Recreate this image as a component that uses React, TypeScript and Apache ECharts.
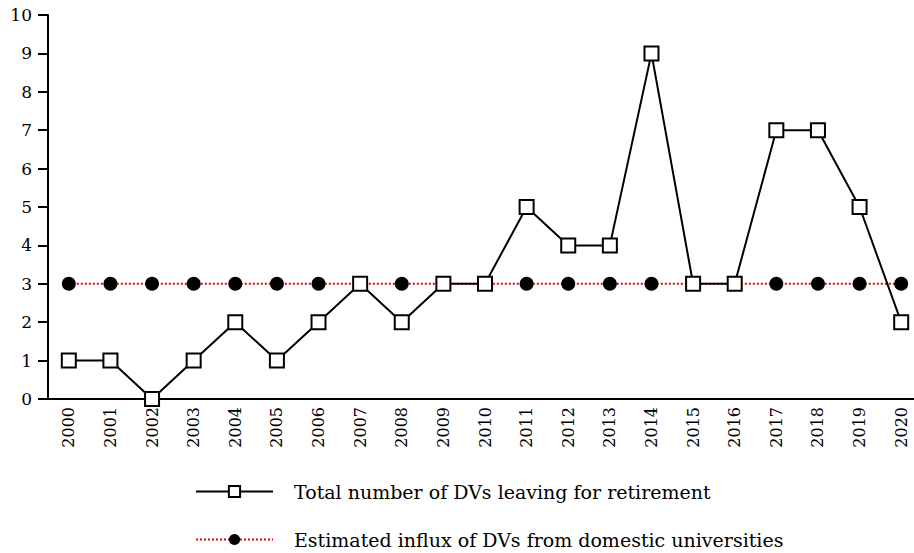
import React, { useEffect, useRef } from "react";
import * as echarts from "echarts";

const years = ["2000","2001","2002","2003","2004","2005","2006","2007","2008","2009","2010","2011","2012","2013","2014","2015","2016","2017","2018","2019","2020"];
const retiring = [1,1,0,1,2,1,2,3,2,3,3,5,4,4,9,3,3,7,7,5,2];
const influx = [3,3,3,3,3,3,3,3,3,3,3,3,3,3,3,3,3,3,3,3,3];
const seriesNames = ["Total number of DVs leaving for retirement", "Estimated influx of DVs from domestic universities"];

const FONT = "DejaVu Serif";

export default function App() {
  const ref = useRef<HTMLDivElement>(null);
  useEffect(() => {
    const chart = echarts.init(ref.current!, null, { renderer: "svg" });
    const legendCommon = {
      orient: "horizontal",
      left: 195,
      padding: 0,
      itemWidth: 77,
      itemHeight: 14,
      textStyle: { color: "#000", fontFamily: FONT, fontSize: 19, padding: [0, 0, 0, 16] },
    };
    chart.setOption({
      animation: false,
      backgroundColor: "#fff",
      textStyle: { fontFamily: FONT },
      grid: { left: 48, top: 15, right: -8, bottom: 154, containLabel: false, outerBoundsMode: "none" },
      xAxis: {
        type: "category",
        data: years,
        boundaryGap: true,
        axisLine: { lineStyle: { color: "#000", width: 2 } },
        axisTick: { alignWithLabel: true, length: 8, lineStyle: { color: "#000", width: 2 } },
        axisLabel: { rotate: 90, color: "#000", fontFamily: FONT, fontSize: 16, margin: 8, interval: 0 },
        splitLine: { show: false },
      },
      yAxis: {
        type: "value",
        min: 0,
        max: 10,
        interval: 1,
        axisLine: { show: true, lineStyle: { color: "#000", width: 2 } },
        axisTick: { show: true, length: 10, lineStyle: { color: "#000", width: 2 } },
        axisLabel: { color: "#000", fontFamily: FONT, fontSize: 17, margin: 16 },
        splitLine: { show: false },
      },
      legend: [
        { ...legendCommon, top: 482, data: [seriesNames[0]] },
        { ...legendCommon, top: 530, data: [seriesNames[1]] },
      ],
      series: [
        {
          name: seriesNames[0],
          type: "line",
          data: retiring,
          z: 3,
          symbol: "rect",
          symbolSize: 14,
          itemStyle: { color: "#fff", borderColor: "#000", borderWidth: 2 },
          lineStyle: { color: "#000", width: 2 },
        },
        {
          name: seriesNames[1],
          type: "line",
          data: influx,
          z: 2,
          symbol: "circle",
          symbolSize: 14,
          itemStyle: { color: "#000" },
          lineStyle: { color: "#e00000", width: 2, type: [2, 2] },
        },
      ],
    });
    return () => chart.dispose();
  }, []);
  return <div ref={ref} style={{ position: "absolute", left: 0, top: 0, width: 914, height: 553 }} />;
}
